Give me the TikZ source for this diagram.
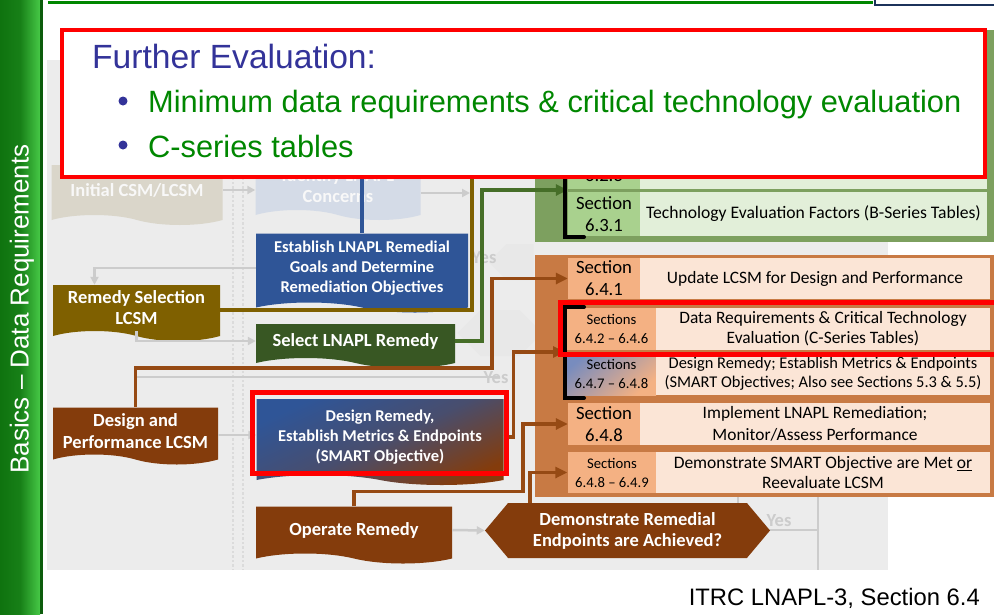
\documentclass[tikz,border=0pt]{standalone}
\usepackage{fontspec}
\setmainfont{Liberation Sans}
\newfontfamily\carlito{Carlito}
\usetikzlibrary{shapes.symbols,arrows.meta,positioning}

\definecolor{bluebox}{RGB}{47,85,151}
\definecolor{olivebox}{RGB}{127,96,0}
\definecolor{greenbox}{RGB}{56,87,35}
\definecolor{brownbox}{RGB}{132,60,12}
\definecolor{brownline}{RGB}{150,74,20}
\definecolor{greenline}{RGB}{70,110,40}
\definecolor{greypanel}{RGB}{236,236,236}
\definecolor{gpanel}{RGB}{125,160,95}
\definecolor{gsec}{RGB}{169,209,142}
\definecolor{gtxt}{RGB}{226,239,217}
\definecolor{opanel}{RGB}{200,122,68}
\definecolor{osec}{RGB}{244,177,131}
\definecolor{otxt}{RGB}{251,229,214}
\definecolor{titleblue}{RGB}{51,51,153}
\definecolor{itemgreen}{RGB}{0,135,0}
\definecolor{fadetxt}{RGB}{248,248,248}
\definecolor{fadebeige}{RGB}{218,214,202}
\definecolor{fadeblue}{RGB}{212,219,231}
\definecolor{fadeline}{RGB}{204,204,204}
\definecolor{sbdark}{RGB}{15,115,15}
\definecolor{sblight}{RGB}{70,200,70}
\definecolor{capblue}{RGB}{120,140,190}

\newcommand{\flowbold}{\carlito\bfseries\fontsize{16.5}{20}\selectfont}
\newcommand{\flowbig}{\carlito\bfseries\fontsize{18.5}{21}\selectfont}
\newcommand{\secbig}{\carlito\fontsize{18.7}{22}\selectfont}
\newcommand{\secsmall}{\carlito\fontsize{14.7}{19}\selectfont}
\newcommand{\rowbig}{\carlito\fontsize{17.4}{22}\selectfont}
\newcommand{\rowsmall}{\carlito\fontsize{17.5}{20}\selectfont}

\begin{document}
\begin{tikzpicture}[x=1pt, y=-1pt,
    docbox/.style={tape, tape bend top=none, tape bend bottom=out and in,
      tape bend height=10pt, draw=none, text=white, font=\flowbig,
      align=center, inner sep=0pt},
    fadebox/.style={docbox, text=fadetxt},
    seccell/.style={rectangle, fill=osec, inner sep=0pt, align=center, font=\secbig},
    txtcell/.style={rectangle, fill=otxt, inner sep=0pt, align=center, font=\rowbig},
    conn/.style={line width=3.5, -{Triangle[length=12pt,width=11pt]}},
    fadeconn/.style={fadeline, line width=2.5, -{Triangle[length=8pt,width=8pt]}},
    bracket/.style={line width=4, line cap=round},
    hilite/.style={draw=red, line width=5}]
\useasboundingbox (0,0) rectangle (994,614);

% faded flow chart behind
\fill[greypanel] (47,60) rectangle (888,570);
\draw[fadeline!70, line width=2, dash dot] (233,177) -- (233,570);
\draw[fadeline!70, line width=2, dash dot] (243,177) -- (243,570);
\node[fadebox, fill=fadebeige, minimum width=171, minimum height=60] (init) at (137,190) {Initial CSM/LCSM};
\node[fadebox, fill=fadeblue, minimum width=165, minimum height=58] (ident) at (338,186) {Identify LNAPL\\Concerns};
\node[signal, signal to=west, fill=fadeline!45, minimum width=45, minimum height=36, inner sep=0pt] (chev) at (520,262) {};
\node[signal, signal to=east and west, fill=fadeline!45, minimum width=85, minimum height=46, inner sep=0pt] (lchex) at (500,333) {};
\coordinate (identout) at (470,193);
\coordinate (yesend) at (500,377);
\draw[fadeconn] (init.east |- 0,190) -- (ident.west |- 0,190);
\draw[fadeconn] (ident.east |- identout) -- (identout);
\draw[fadeline, line width=2.5] (135,377) -- (yesend);
\draw[fadeline, line width=2] (738,497) -- (738,530) -- (818,530) -- (818,497);
\draw[fadeline, line width=2] (818,530) -- (818,570);
\node[text=fadeline, font=\flowbig] (yes1) at (484,258) {Yes};
\node[text=fadeline, font=\flowbig] (yes2) at (496,378) {Yes};
\node[text=fadeline, font=\flowbig] (yes3) at (779,521) {Yes};

% green panel (Section 6.2 / 6.3)
\fill[gpanel] (535,30) rectangle (994,242);
\node[seccell, fill=gsec, minimum width=72, minimum height=54] (s621) at (604,60) {};
\node[txtcell, fill=gtxt, minimum width=347, minimum height=54] (t621) at (813.5,60) {};
\node[seccell, fill=gsec, minimum width=72, minimum height=46] (s622) at (604,113) {};
\node[txtcell, fill=gtxt, minimum width=347, minimum height=46] (t622) at (813.5,113) {};
\node[seccell, fill=gsec, minimum width=72, minimum height=50] (s623) at (604,164) {Section\\6.2.3};
\node[txtcell, fill=gtxt, minimum width=347, minimum height=50] (t623) at (813.5,164) {};
\node[seccell, fill=gsec, minimum width=72, minimum height=44] (s631) at (604,214) {Section\\6.3.1};
\node[txtcell, fill=gtxt, minimum width=347, minimum height=44, font=\carlito\fontsize{17.6}{22}\selectfont] (t631) at (813.5,214) {Technology Evaluation Factors (B-Series Tables)};

% orange panel (Section 6.4)
\fill[opanel] (535,255) rectangle (994,497);
\node[seccell, minimum width=72, minimum height=41] (s641) at (604,278.5) {Section\\6.4.1};
\node[txtcell, minimum width=350, minimum height=41] (t641) at (815,278.5) {Update LCSM for Design and Performance};
\node[seccell, minimum width=89, minimum height=42, font=\secsmall] (s642) at (611.5,329) {Sections\\6.4.2 – 6.4.6};
\node[txtcell, minimum width=334, minimum height=42, font=\carlito\fontsize{17.4}{20}\selectfont] (t642) at (823,329) {Data Requirements \& Critical Technology\\Evaluation (C-Series Tables)};
\node[seccell, minimum width=89, minimum height=43, font=\secsmall, top color=capblue, bottom color=osec, shading angle=40] (s647) at (611.5,373.5) {Sections\\6.4.7 – 6.4.8};
\node[txtcell, minimum width=334, minimum height=43, font=\carlito\fontsize{16.4}{19}\selectfont] (t647) at (823,373.5) {Design Remedy; Establish Metrics \& Endpoints\\(SMART Objectives; Also see Sections 5.3 \& 5.5)};
\node[seccell, minimum width=72, minimum height=42] (s648) at (604,424) {Section\\6.4.8};
\node[txtcell, minimum width=350, minimum height=42] (t648) at (815,424) {Implement LNAPL Remediation;\\Monitor/Assess Performance};
\node[seccell, minimum width=89, minimum height=41, font=\secsmall] (s649) at (612,472.5) {Sections\\6.4.8 – 6.4.9};
\node[txtcell, minimum width=334, minimum height=41, font=\rowsmall] (t649) at (823,472.5) {Demonstrate SMART Objective are Met \underline{or}\\Reevaluate LCSM};

% flow chart boxes
\coordinate (bluetop) at (362,170);
\coordinate (olivetop) at (472,170);
\node[docbox, fill=bluebox, font=\flowbold, minimum width=212, minimum height=79] (estab) at (362,268) {Establish LNAPL Remedial\\Goals and Determine\\Remediation Objectives};
\node[docbox, fill=olivebox, minimum width=167, minimum height=56] (remsel) at (136.5,308) {Remedy Selection\\LCSM};
\node[docbox, fill=greenbox, minimum width=199, minimum height=44] (select) at (355.5,341) {Select LNAPL Remedy};
\node[docbox, fill=brownbox, font=\carlito\bfseries\fontsize{18.5}{22}\selectfont, minimum width=165, minimum height=57] (dperf) at (135.5,431) {Design and\\Performance LCSM};
\node[docbox, top color=bluebox, bottom color=brownbox, middle color=bluebox!70!brownbox, shading angle=25, font=\flowbold, minimum width=247, minimum height=86] (dsgn) at (380,437) {Design Remedy,\\Establish Metrics \& Endpoints\\(SMART Objective)};
\node[docbox, fill=brownbox, minimum width=196, minimum height=57] (oper) at (354,530) {Operate Remedy};
\node[signal, signal to=east and west, signal pointer angle=100, fill=brownbox, text=white, font=\flowbig, align=center, minimum width=285, minimum height=55, inner sep=0pt] (hexa) at (627.5,530.5) {Demonstrate Remedial\\Endpoints are Achieved?};

% faded links between boxes
\draw[fadeconn] (estab.west |- 0,268) -| ([xshift=-42pt]remsel.north);
\draw[fadeconn] (remsel.south) |- (select.west);
\draw[fadeconn] (dperf.east |- 0,435) -- (dsgn.west |- 0,435);
\draw[fadeconn] (oper.east) -- (hexa.west);

% links into the section tables
\coordinate (gturn) at (482,190);
\coordinate (b1) at (492,368);
\coordinate (brk2) at (565,352);
\coordinate (hexjoin) at (530,503);
\draw[bluebox, line width=3.5] (bluetop) -- (estab.north);
\draw[olivebox, line width=3.5] (remsel.east |- 0,310) -| (olivetop);
\draw[conn, greenline] (select.east) -| (gturn) -- (gturn -| s631.west);
\draw[conn, brownline] (dperf.north) |- (b1) |- (s641.west);
\draw[conn, brownline] (dsgn.east) -- ++(10,0) |- (brk2);
\draw[conn, brownline] (oper.north) -- ++(0,-15) -| ([xshift=-45pt]s648.west) -- (s648.west);
\draw[conn, brownline] (hexjoin) |- (s649.west);

% brackets and highlights
\draw[bracket] (565,170) -- (565,237) -- (584,237);
\draw[bracket] (584,307) -- (565,307) -- (565,398) -- (584,398);
\draw[hilite] (560,302) rectangle (998,354);
\draw[hilite] (252,392) rectangle (506,473);

% further evaluation call-out
\node[draw=red, line width=4, fill=white, minimum width=923, minimum height=147, inner sep=0pt] (evalbox) at (523.5,103.5) {};
\node[anchor=base west, text=titleblue, font=\fontsize{33.6}{38}\selectfont, inner sep=0pt] (evalhead) at (92,68) {Further Evaluation:};
\node[anchor=base west, text=itemgreen, font=\fontsize{30.8}{36}\selectfont, inner sep=0pt] (item1) at (148,112) {Minimum data requirements \& critical technology evaluation};
\node[anchor=base west, text=itemgreen, font=\fontsize{30.8}{36}\selectfont, inner sep=0pt] (item2) at (148,157) {C-series tables};
\fill[titleblue] (123,101) circle (4.5);
\fill[titleblue] (123,145) circle (4.5);

% side bar, top rule, source
\shade[left color=sbdark, right color=sblight, middle color=sbdark!85!sblight] (0,0) rectangle (40,614);
\fill[sbdark!80!black] (40,0) rectangle (43,614);
\node[rotate=90, text=white, font=\fontsize{26}{30}\selectfont] (sidetitle) at (22,309) {Basics – Data Requirements};
\draw[itemgreen, line width=3] (48,2) -- (873,2);
\draw[bluebox!60!black, line width=2] (875,-2) -- (875,5) -- (996,5);
\node[anchor=base east, font=\fontsize{23.8}{28}\selectfont, inner sep=0pt] (source) at (980,605) {ITRC LNAPL-3, Section 6.4};
\end{tikzpicture}
\end{document}
